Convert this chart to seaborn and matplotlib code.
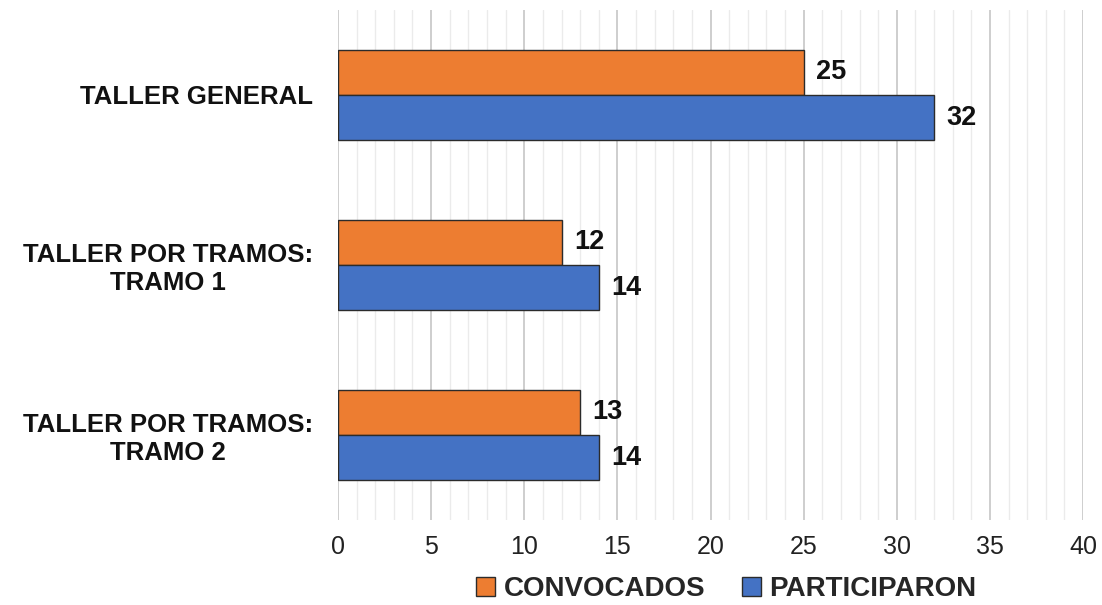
import pandas as pd
import matplotlib.pyplot as plt
import seaborn as sns
from matplotlib.ticker import MultipleLocator
from matplotlib.patches import Patch

sns.set_style("white")
plt.rcParams['font.family'] = ['Liberation Sans', 'DejaVu Sans']

# data
talleres = ["TALLER GENERAL", "TALLER POR TRAMOS:\nTRAMO 1", "TALLER POR TRAMOS:\nTRAMO 2"]
convocados = [25, 12, 13]
participaron = [32, 14, 14]
series = ["CONVOCADOS", "PARTICIPARON"]
colores = ["#ED7D31", "#4472C4"]

df = pd.DataFrame({
    "taller": talleres * 2,
    "valor": convocados + participaron,
    "grupo": [series[0]] * 3 + [series[1]] * 3,
})

fig = plt.figure(figsize=(11.02, 6.05), dpi=100)
ax = fig.add_axes([0.3067, 0.1405, 0.6761, 0.843])

sns.barplot(data=df, y="taller", x="valor", hue="grupo", orient="h",
            palette=colores, width=0.53, edgecolor="#2b2b2b", linewidth=1.0,
            saturation=1, legend=False, ax=ax, zorder=3)

for cont in ax.containers:
    ax.bar_label(cont, padding=9, fontsize=19.5, fontweight="bold", color="#111111")

ax.set_xlim(0, 40)
ax.set_ylim(2.5, -0.5)
ax.xaxis.set_major_locator(MultipleLocator(5))
ax.xaxis.set_minor_locator(MultipleLocator(1))
ax.grid(axis="x", which="major", color="#c6c6c6", linewidth=1.2, zorder=0)
ax.grid(axis="x", which="minor", color="#ebebeb", linewidth=1.0, zorder=0)
ax.set_axisbelow(True)
for s in ax.spines.values():
    s.set_visible(False)

ax.set_xlabel("")
ax.set_ylabel("")
ax.tick_params(axis="x", which="both", length=0, pad=11, labelsize=18, labelcolor="#222222")
ax.tick_params(axis="y", length=0, pad=18)
for lab in ax.get_yticklabels():
    lab.set_fontsize(18.5)
    lab.set_fontweight("bold")
    lab.set_color("#111111")
    lab.set_multialignment("center")

handles = [Patch(facecolor=c, edgecolor="#2b2b2b", linewidth=1.0) for c in colores]
fig.legend(handles, series, loc="center", bbox_to_anchor=(0.659, 0.026), ncol=2,
           frameon=False, prop={"weight": "bold", "size": 20},
           handlelength=0.7, handleheight=0.7, handletextpad=0.3, columnspacing=1.3)

fig.savefig("out.png", dpi=100)
